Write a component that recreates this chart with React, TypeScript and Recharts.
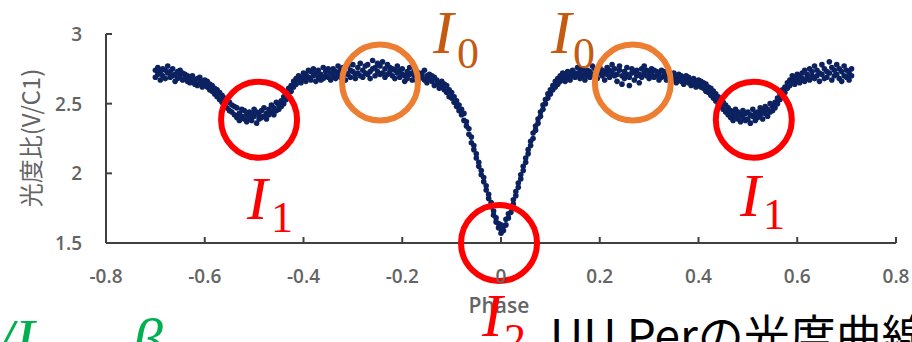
import { ReferenceDot, Scatter, ScatterChart, XAxis, YAxis } from 'recharts'

const W = 912
const H = 342
const NAVY = '#0c215f'
const RED = '#ff0000'
const RING_ORANGE = '#ed7d31'
const TEXT_ORANGE = '#c55a11'
const GREEN = '#00b050'
const AXIS = '#404040'
const TICK_TEXT = '#646464'

const xTicks = [-0.8, -0.6, -0.4, -0.2, 0, 0.2, 0.4, 0.6, 0.8]
const yTicks = [1.5, 2, 2.5, 3]

// [phase, 光度比], segment by segment
const leftShoulder: [number, number][] = [
  [-0.7, 2.74], [-0.7, 2.69], [-0.695, 2.71], [-0.695, 2.76], [-0.69, 2.73], [-0.69, 2.67],
  [-0.685, 2.7], [-0.685, 2.75], [-0.68, 2.74], [-0.68, 2.68], [-0.675, 2.72], [-0.675, 2.77],
  [-0.67, 2.69], [-0.67, 2.73], [-0.665, 2.75], [-0.665, 2.7], [-0.66, 2.71], [-0.66, 2.66],
  [-0.655, 2.73], [-0.655, 2.68], [-0.65, 2.7], [-0.65, 2.74], [-0.645, 2.67], [-0.645, 2.72],
  [-0.64, 2.71], [-0.64, 2.68], [-0.635, 2.66], [-0.635, 2.7], [-0.63, 2.69], [-0.63, 2.65],
  [-0.625, 2.7], [-0.625, 2.66], [-0.62, 2.67], [-0.62, 2.64], [-0.615, 2.68], [-0.615, 2.63],
  [-0.61, 2.65], [-0.61, 2.69], [-0.605, 2.66], [-0.605, 2.62], [-0.6, 2.64], [-0.6, 2.67],
]

const leftDip: [number, number][] = [
  [-0.595, 2.62], [-0.595, 2.66], [-0.59, 2.6], [-0.59, 2.64], [-0.585, 2.59], [-0.585, 2.63],
  [-0.58, 2.57], [-0.58, 2.61], [-0.575, 2.55], [-0.575, 2.6], [-0.57, 2.53], [-0.57, 2.58],
  [-0.565, 2.51], [-0.565, 2.56], [-0.56, 2.49], [-0.56, 2.54], [-0.555, 2.47], [-0.555, 2.53],
  [-0.55, 2.45], [-0.55, 2.51], [-0.545, 2.44], [-0.545, 2.49], [-0.54, 2.42], [-0.54, 2.48],
  [-0.535, 2.4], [-0.535, 2.47], [-0.53, 2.43], [-0.53, 2.38], [-0.525, 2.41], [-0.525, 2.46],
  [-0.52, 2.39], [-0.52, 2.45], [-0.515, 2.42], [-0.515, 2.37], [-0.51, 2.44], [-0.51, 2.4],
  [-0.505, 2.38], [-0.505, 2.43], [-0.5, 2.41], [-0.5, 2.46], [-0.495, 2.36], [-0.495, 2.44],
  [-0.49, 2.42], [-0.49, 2.39], [-0.485, 2.45], [-0.485, 2.4], [-0.48, 2.41], [-0.48, 2.47],
  [-0.475, 2.43], [-0.475, 2.39], [-0.47, 2.46], [-0.47, 2.42], [-0.465, 2.44], [-0.465, 2.49],
  [-0.46, 2.47], [-0.46, 2.42], [-0.455, 2.45], [-0.455, 2.51], [-0.45, 2.49], [-0.45, 2.46],
  [-0.445, 2.52], [-0.445, 2.48], [-0.44, 2.55], [-0.44, 2.5], [-0.435, 2.58], [-0.435, 2.53],
  [-0.43, 2.61], [-0.43, 2.56], [-0.425, 2.63], [-0.425, 2.59], [-0.42, 2.66], [-0.42, 2.62],
  [-0.415, 2.64], [-0.415, 2.68], [-0.41, 2.67], [-0.41, 2.7], [-0.405, 2.69], [-0.405, 2.65],
]

const leftPlateau: [number, number][] = [
  [-0.4, 2.68], [-0.4, 2.72], [-0.395, 2.71], [-0.395, 2.66], [-0.39, 2.69], [-0.39, 2.74],
  [-0.385, 2.73], [-0.385, 2.67], [-0.38, 2.7], [-0.38, 2.75], [-0.375, 2.66], [-0.375, 2.72],
  [-0.37, 2.74], [-0.37, 2.69], [-0.365, 2.71], [-0.365, 2.67], [-0.36, 2.68], [-0.36, 2.76],
  [-0.355, 2.73], [-0.355, 2.7], [-0.35, 2.69], [-0.35, 2.75], [-0.345, 2.72], [-0.345, 2.67],
  [-0.34, 2.75], [-0.34, 2.7], [-0.335, 2.68], [-0.335, 2.73], [-0.33, 2.71], [-0.33, 2.77],
  [-0.325, 2.74], [-0.325, 2.69], [-0.32, 2.7], [-0.32, 2.76], [-0.315, 2.72], [-0.315, 2.67],
  [-0.31, 2.77], [-0.31, 2.71], [-0.305, 2.69], [-0.305, 2.74], [-0.3, 2.73], [-0.3, 2.78],
  [-0.295, 2.71], [-0.295, 2.68], [-0.29, 2.76], [-0.29, 2.72], [-0.285, 2.7], [-0.285, 2.79],
  [-0.28, 2.74], [-0.28, 2.69], [-0.275, 2.72], [-0.275, 2.77], [-0.27, 2.78], [-0.27, 2.71],
  [-0.265, 2.73], [-0.265, 2.68], [-0.26, 2.75], [-0.26, 2.81], [-0.255, 2.7], [-0.255, 2.76],
  [-0.25, 2.73], [-0.25, 2.79], [-0.245, 2.77], [-0.245, 2.71], [-0.24, 2.72], [-0.24, 2.8],
  [-0.235, 2.75], [-0.235, 2.69], [-0.23, 2.71], [-0.23, 2.78], [-0.225, 2.76], [-0.225, 2.73],
  [-0.22, 2.7], [-0.22, 2.75], [-0.215, 2.74], [-0.215, 2.68], [-0.21, 2.72], [-0.21, 2.77],
  [-0.205, 2.69], [-0.205, 2.74], [-0.2, 2.75], [-0.2, 2.71], [-0.195, 2.7], [-0.195, 2.66],
  [-0.19, 2.73], [-0.19, 2.68], [-0.185, 2.71], [-0.185, 2.76], [-0.18, 2.67], [-0.18, 2.72],
  [-0.175, 2.7], [-0.175, 2.74], [-0.17, 2.73], [-0.17, 2.66], [-0.165, 2.68], [-0.165, 2.71],
  [-0.16, 2.72], [-0.16, 2.69], [-0.155, 2.67], [-0.155, 2.74], [-0.15, 2.7], [-0.15, 2.65],
  [-0.145, 2.71], [-0.145, 2.68], [-0.14, 2.66], [-0.14, 2.7], [-0.135, 2.69], [-0.135, 2.63],
  [-0.13, 2.67], [-0.13, 2.64], [-0.125, 2.65], [-0.125, 2.61],
]

const eclipse: [number, number][] = [
  [-0.12, 2.62], [-0.12, 2.66], [-0.115, 2.6], [-0.115, 2.64], [-0.11, 2.58], [-0.11, 2.63],
  [-0.105, 2.55], [-0.105, 2.6], [-0.1, 2.54], [-0.1, 2.58], [-0.095, 2.51], [-0.095, 2.55],
  [-0.09, 2.48], [-0.09, 2.52], [-0.085, 2.45], [-0.085, 2.49], [-0.08, 2.42], [-0.08, 2.46],
  [-0.075, 2.38], [-0.075, 2.43], [-0.07, 2.34], [-0.07, 2.37], [-0.065, 2.28], [-0.065, 2.32],
  [-0.06, 2.22], [-0.06, 2.26], [-0.055, 2.17], [-0.055, 2.2], [-0.05, 2.11], [-0.05, 2.14],
  [-0.045, 2.05], [-0.045, 2.08], [-0.04, 1.99], [-0.04, 2.02], [-0.035, 1.94], [-0.035, 1.97],
  [-0.03, 1.88], [-0.03, 1.91], [-0.025, 1.82], [-0.025, 1.85], [-0.02, 1.76], [-0.02, 1.79],
  [-0.015, 1.7], [-0.015, 1.73], [-0.01, 1.65], [-0.01, 1.68], [-0.005, 1.61], [-0.005, 1.64],
  [0, 1.57], [0, 1.6], [0, 1.63], [0.005, 1.59], [0.005, 1.62], [0.01, 1.63], [0.01, 1.67],
  [0.015, 1.68], [0.015, 1.71], [0.02, 1.72], [0.02, 1.76], [0.025, 1.78], [0.025, 1.81],
  [0.03, 1.84], [0.03, 1.87], [0.035, 1.9], [0.035, 1.93], [0.04, 1.96], [0.04, 1.99],
  [0.045, 2.02], [0.045, 2.05], [0.05, 2.08], [0.05, 2.11], [0.055, 2.14], [0.055, 2.17],
  [0.06, 2.2], [0.06, 2.23], [0.065, 2.25], [0.065, 2.29], [0.07, 2.31], [0.07, 2.34],
  [0.075, 2.36], [0.075, 2.39], [0.08, 2.41], [0.08, 2.44], [0.085, 2.46], [0.085, 2.49],
  [0.09, 2.5], [0.09, 2.53], [0.095, 2.54], [0.095, 2.57], [0.1, 2.57], [0.1, 2.6],
  [0.105, 2.6], [0.105, 2.63], [0.11, 2.62], [0.11, 2.66], [0.115, 2.64], [0.115, 2.68],
  [0.12, 2.66], [0.12, 2.7],
]

const rightPlateau: [number, number][] = [
  [0.125, 2.68], [0.125, 2.72], [0.13, 2.7], [0.13, 2.66], [0.135, 2.73], [0.135, 2.69],
  [0.14, 2.67], [0.14, 2.71], [0.145, 2.74], [0.145, 2.7], [0.15, 2.69], [0.15, 2.72],
  [0.155, 2.71], [0.155, 2.76], [0.16, 2.73], [0.16, 2.68], [0.165, 2.7], [0.165, 2.75],
  [0.17, 2.72], [0.17, 2.67], [0.175, 2.74], [0.175, 2.7], [0.18, 2.69], [0.18, 2.73],
  [0.185, 2.71], [0.185, 2.77], [0.19, 2.75], [0.19, 2.7], [0.195, 2.68], [0.195, 2.73],
  [0.2, 2.72], [0.2, 2.76], [0.205, 2.7], [0.205, 2.74], [0.21, 2.73], [0.21, 2.67],
  [0.215, 2.76], [0.215, 2.71], [0.22, 2.69], [0.22, 2.74], [0.225, 2.72], [0.225, 2.78],
  [0.23, 2.75], [0.23, 2.7], [0.235, 2.71], [0.235, 2.66], [0.24, 2.74], [0.24, 2.77],
  [0.245, 2.7], [0.245, 2.64], [0.25, 2.73], [0.25, 2.68], [0.255, 2.76], [0.255, 2.71],
  [0.26, 2.69], [0.26, 2.63], [0.265, 2.72], [0.265, 2.75], [0.27, 2.67], [0.27, 2.73],
  [0.275, 2.74], [0.275, 2.7], [0.28, 2.71], [0.28, 2.65], [0.285, 2.75], [0.285, 2.69],
  [0.29, 2.72], [0.29, 2.77], [0.295, 2.7], [0.295, 2.74], [0.3, 2.73], [0.3, 2.68],
  [0.305, 2.71], [0.305, 2.75], [0.31, 2.74], [0.31, 2.69], [0.315, 2.7], [0.315, 2.73],
  [0.32, 2.72], [0.32, 2.67], [0.325, 2.69], [0.325, 2.74], [0.33, 2.73], [0.33, 2.7],
  [0.335, 2.71], [0.335, 2.67], [0.34, 2.68], [0.34, 2.72], [0.345, 2.7], [0.345, 2.66],
  [0.35, 2.72], [0.35, 2.68], [0.355, 2.69], [0.355, 2.65], [0.36, 2.71], [0.36, 2.67],
  [0.365, 2.66], [0.365, 2.7], [0.37, 2.68], [0.37, 2.64], [0.375, 2.7], [0.375, 2.66],
  [0.38, 2.65], [0.38, 2.69], [0.385, 2.67], [0.385, 2.63], [0.39, 2.64], [0.39, 2.68],
  [0.395, 2.66], [0.395, 2.62], [0.4, 2.63], [0.4, 2.67],
]

const rightDip: [number, number][] = [
  [0.405, 2.62], [0.405, 2.66], [0.41, 2.61], [0.41, 2.65], [0.415, 2.59], [0.415, 2.64],
  [0.42, 2.58], [0.42, 2.62], [0.425, 2.56], [0.425, 2.61], [0.43, 2.54], [0.43, 2.59],
  [0.435, 2.52], [0.435, 2.57], [0.44, 2.5], [0.44, 2.55], [0.445, 2.48], [0.445, 2.53],
  [0.45, 2.46], [0.45, 2.51], [0.455, 2.44], [0.455, 2.49], [0.46, 2.42], [0.46, 2.47],
  [0.465, 2.45], [0.465, 2.4], [0.47, 2.43], [0.47, 2.38], [0.475, 2.41], [0.475, 2.46],
  [0.48, 2.44], [0.48, 2.39], [0.485, 2.37], [0.485, 2.42], [0.49, 2.4], [0.49, 2.45],
  [0.495, 2.43], [0.495, 2.38], [0.5, 2.39], [0.5, 2.44], [0.505, 2.36], [0.505, 2.42],
  [0.51, 2.41], [0.51, 2.46], [0.515, 2.38], [0.515, 2.43], [0.52, 2.44], [0.52, 2.4],
  [0.525, 2.42], [0.525, 2.47], [0.53, 2.39], [0.53, 2.45], [0.535, 2.43], [0.535, 2.48],
  [0.54, 2.46], [0.54, 2.41], [0.545, 2.44], [0.545, 2.5], [0.55, 2.48], [0.55, 2.45],
  [0.555, 2.51], [0.555, 2.47], [0.56, 2.54], [0.56, 2.5], [0.565, 2.57], [0.565, 2.53],
  [0.57, 2.6], [0.57, 2.56], [0.575, 2.62], [0.575, 2.58], [0.58, 2.65], [0.58, 2.61],
  [0.585, 2.63], [0.585, 2.67], [0.59, 2.66], [0.59, 2.7], [0.595, 2.68], [0.595, 2.64],
]

const rightShoulder: [number, number][] = [
  [0.6, 2.67], [0.6, 2.71], [0.605, 2.7], [0.605, 2.65], [0.61, 2.72], [0.61, 2.68],
  [0.615, 2.66], [0.615, 2.74], [0.62, 2.71], [0.62, 2.69], [0.625, 2.75], [0.625, 2.67],
  [0.63, 2.7], [0.63, 2.73], [0.635, 2.68], [0.635, 2.77], [0.64, 2.74], [0.64, 2.7],
  [0.645, 2.66], [0.645, 2.72], [0.65, 2.71], [0.65, 2.78], [0.655, 2.75], [0.655, 2.68],
  [0.66, 2.69], [0.66, 2.73], [0.665, 2.72], [0.665, 2.8], [0.67, 2.67], [0.67, 2.76],
  [0.675, 2.74], [0.675, 2.7], [0.68, 2.71], [0.68, 2.78], [0.685, 2.68], [0.685, 2.75],
  [0.69, 2.73], [0.69, 2.66], [0.695, 2.77], [0.695, 2.7], [0.7, 2.69], [0.7, 2.74],
  [0.705, 2.72], [0.705, 2.67], [0.71, 2.75], [0.71, 2.7],
]

// annotation rings: [phase, ratio, colour]
const rings: [number, number, string][] = [
  [-0.49, 2.385, RED],
  [-0.245, 2.652, RING_ORANGE],
  [-0.004, 1.5, RED],
  [0.267, 2.652, RING_ORANGE],
  [0.512, 2.385, RED],
]

const points = [...leftShoulder, ...leftDip, ...leftPlateau, ...eclipse, ...rightPlateau, ...rightDip, ...rightShoulder].map(
  ([phase, ratio]) => ({ phase, ratio }),
)

const tickFont = { fontFamily: 'Open Sans', fontSize: 19, fontWeight: 600, fill: TICK_TEXT }

function XTick({ x, y, payload }: any) {
  return (
    <g>
      <line x1={x} y1={y} x2={x} y2={y - 6} stroke={AXIS} strokeWidth={2} />
      <text x={x} y={y + 40} textAnchor="middle" {...tickFont}>
        {String(payload.value)}
      </text>
    </g>
  )
}

function YTick({ x, y, payload }: any) {
  return (
    <g>
      <line x1={x} y1={y} x2={x + 6} y2={y} stroke={AXIS} strokeWidth={2} />
      <text x={x - 24} y={y + 7} textAnchor="end" {...tickFont}>
        {String(payload.value)}
      </text>
    </g>
  )
}

function Dot({ cx, cy }: any) {
  return <circle cx={cx} cy={cy} r={2.8} fill={NAVY} />
}

function Sym({ x, y, color, main, sub, dx, dy }: { x: number; y: number; color: string; main: string; sub: string; dx: number; dy: number }) {
  return (
    <g fill={color}>
      <text x={x} y={y} fontFamily="Liberation Serif" fontStyle="italic" fontSize={62}>
        {main}
      </text>
      <text x={x + dx} y={y + dy} fontFamily="Liberation Serif" fontSize={44}>
        {sub}
      </text>
    </g>
  )
}

export default function App() {
  return (
    <div style={{ position: 'absolute', left: 0, top: 0, width: W, height: H, overflow: 'hidden', background: '#fff' }}>
      <ScatterChart width={W} height={H} margin={{ top: 34, right: 16, left: 0, bottom: 0 }}>
        <XAxis
          type="number"
          dataKey="phase"
          domain={[-0.8, 0.8]}
          ticks={xTicks}
          height={99}
          stroke={AXIS}
          strokeWidth={2}
          tickLine={false}
          tickSize={0}
          tickMargin={0}
          tick={<XTick />}
          interval={0}
          allowDataOverflow
        />
        <YAxis
          type="number"
          dataKey="ratio"
          domain={[1.5, 3]}
          ticks={yTicks}
          width={106}
          stroke={AXIS}
          strokeWidth={2}
          tickLine={false}
          tickSize={0}
          tickMargin={0}
          tick={<YTick />}
          interval={0}
          allowDataOverflow
        />
        <Scatter data={points} shape={<Dot />} isAnimationActive={false} />
        {rings.map(([x, y, c], i) => (
          <ReferenceDot key={i} x={x} y={y} r={38} fill="none" stroke={c} strokeWidth={6} ifOverflow="visible" />
        ))}
      </ScatterChart>
      <svg width={W} height={H} style={{ position: 'absolute', left: 0, top: 0, pointerEvents: 'none' }}>
        <text
          transform="translate(29 138) rotate(-90)"
          textAnchor="middle"
          dominantBaseline="central"
          fontFamily="Noto Sans CJK JP"
          fontSize={24}
          fill={TICK_TEXT}
        >
          光度比(V/C1)
        </text>
        <text x={499} y={313} textAnchor="middle" fontFamily="Open Sans" fontSize={21} fontWeight={600} fill={TICK_TEXT}>
          Phase
        </text>
        <Sym x={433} y={53} color={TEXT_ORANGE} main="I" sub="0" dx={24} dy={15} />
        <Sym x={551} y={53} color={TEXT_ORANGE} main="I" sub="0" dx={22} dy={15} />
        <Sym x={247} y={219} color={RED} main="I" sub="1" dx={24} dy={13} />
        <Sym x={740} y={216} color={RED} main="I" sub="1" dx={23} dy={13} />
        <Sym x={482} y={336} color={RED} main="I" sub="2" dx={22} dy={18} />
        <g fill={GREEN} fontFamily="Liberation Serif" fontStyle="italic" fontSize={62}>
          <text x={-4} y={361}>/</text>
          <text x={14} y={361}>I</text>
          <text x={132} y={361}>β</text>
        </g>
        <text x={550} y={353} fontFamily="Noto Sans CJK JP" fontSize={46} fill="#000">
          UU Perの光度曲線
        </text>
      </svg>
    </div>
  )
}
